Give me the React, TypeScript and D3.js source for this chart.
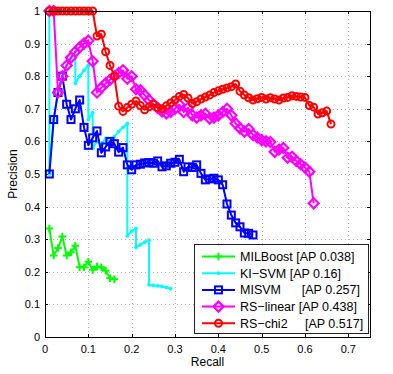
import React from 'react';
import * as d3 from 'd3';

const xTicks = [0, 0.1, 0.2, 0.3, 0.4, 0.5, 0.6, 0.7];
const xTickLabels = ['0', '0.1', '0.2', '0.3', '0.4', '0.5', '0.6', '0.7'];
const yTicks = [0, 0.1, 0.2, 0.3, 0.4, 0.5, 0.6, 0.7, 0.8, 0.9, 1];
const yTickLabels = ['0', '0.1', '0.2', '0.3', '0.4', '0.5', '0.6', '0.7', '0.8', '0.9', '1'];

const milboostRecall = [0.01, 0.02, 0.03, 0.04, 0.05, 0.06, 0.07, 0.08, 0.09, 0.1, 0.11, 0.12, 0.13, 0.14, 0.15, 0.16];
const milboostPrecision = [0.333, 0.25, 0.273, 0.308, 0.25, 0.26, 0.28, 0.214, 0.214, 0.231, 0.206, 0.216, 0.214, 0.203, 0.18, 0.177];

const kisvmRecall = [0.01, 0.01, 0.02, 0.03, 0.04, 0.05, 0.06, 0.07, 0.07, 0.08, 0.09, 0.1, 0.1, 0.11, 0.11, 0.12, 0.13, 0.14, 0.15, 0.16, 0.17, 0.18, 0.19, 0.19, 0.2, 0.21, 0.21, 0.22, 0.23, 0.24, 0.24, 0.25, 0.26, 0.27, 0.28, 0.29];
const kisvmPrecision = [1, 0.5, 0.667, 0.75, 0.8, 0.833, 0.857, 0.875, 0.778, 0.8, 0.818, 0.833, 0.667, 0.688, 0.579, 0.6, 0.591, 0.609, 0.6, 0.615, 0.63, 0.643, 0.655, 0.31, 0.325, 0.333, 0.275, 0.283, 0.291, 0.297, 0.16, 0.158, 0.157, 0.155, 0.152, 0.148];

const misvmRecall = [0.01, 0.02, 0.03, 0.04, 0.05, 0.06, 0.07, 0.08, 0.09, 0.1, 0.11, 0.12, 0.13, 0.14, 0.15, 0.16, 0.17, 0.18, 0.19, 0.2, 0.21, 0.22, 0.23, 0.24, 0.25, 0.26, 0.27, 0.28, 0.29, 0.3, 0.31, 0.32, 0.33, 0.34, 0.35, 0.36, 0.37, 0.38, 0.39, 0.4, 0.41, 0.42, 0.43, 0.44, 0.45, 0.46, 0.47, 0.48];
const misvmPrecision = [0.5, 0.667, 0.75, 0.8, 0.714, 0.667, 0.7, 0.727, 0.643, 0.588, 0.611, 0.632, 0.565, 0.583, 0.6, 0.593, 0.567, 0.581, 0.528, 0.513, 0.528, 0.53, 0.534, 0.535, 0.533, 0.54, 0.522, 0.525, 0.533, 0.536, 0.545, 0.507, 0.522, 0.52, 0.528, 0.502, 0.482, 0.485, 0.487, 0.482, 0.467, 0.408, 0.374, 0.35, 0.338, 0.319, 0.318, 0.313];

const rsLinearRecall = [0.01, 0.02, 0.03, 0.04, 0.05, 0.06, 0.07, 0.08, 0.09, 0.1, 0.11, 0.12, 0.13, 0.14, 0.15, 0.16, 0.17, 0.18, 0.19, 0.2, 0.21, 0.22, 0.23, 0.24, 0.25, 0.26, 0.27, 0.28, 0.29, 0.3, 0.31, 0.32, 0.33, 0.34, 0.35, 0.36, 0.37, 0.38, 0.39, 0.4, 0.41, 0.42, 0.43, 0.44, 0.45, 0.46, 0.47, 0.48, 0.49, 0.5, 0.51, 0.52, 0.53, 0.54, 0.55, 0.56, 0.57, 0.58, 0.59, 0.6, 0.61, 0.62];
const rsLinearPrecision = [1, 1, 0.75, 0.8, 0.833, 0.857, 0.875, 0.889, 0.9, 0.909, 0.846, 0.75, 0.765, 0.778, 0.789, 0.8, 0.81, 0.818, 0.792, 0.8, 0.76, 0.757, 0.742, 0.727, 0.714, 0.703, 0.692, 0.686, 0.69, 0.7, 0.713, 0.69, 0.703, 0.68, 0.673, 0.68, 0.685, 0.67, 0.673, 0.68, 0.69, 0.7, 0.68, 0.655, 0.64, 0.63, 0.638, 0.62, 0.612, 0.604, 0.6, 0.598, 0.568, 0.575, 0.58, 0.55, 0.553, 0.54, 0.53, 0.52, 0.507, 0.41];

const rsChi2Recall = [0.01, 0.02, 0.03, 0.04, 0.05, 0.06, 0.07, 0.08, 0.09, 0.1, 0.11, 0.12, 0.13, 0.14, 0.15, 0.16, 0.17, 0.18, 0.19, 0.2, 0.21, 0.22, 0.23, 0.24, 0.25, 0.26, 0.27, 0.28, 0.29, 0.3, 0.31, 0.32, 0.33, 0.34, 0.35, 0.36, 0.37, 0.38, 0.39, 0.4, 0.41, 0.42, 0.43, 0.44, 0.45, 0.46, 0.47, 0.48, 0.49, 0.5, 0.51, 0.52, 0.53, 0.54, 0.55, 0.56, 0.57, 0.58, 0.59, 0.6, 0.61, 0.62, 0.63, 0.64, 0.65, 0.66];
const rsChi2Precision = [1, 1, 1, 1, 1, 1, 1, 1, 1, 1, 1, 0.923, 0.929, 0.875, 0.833, 0.8, 0.708, 0.692, 0.704, 0.714, 0.724, 0.71, 0.697, 0.706, 0.714, 0.703, 0.7, 0.709, 0.718, 0.727, 0.738, 0.744, 0.733, 0.716, 0.722, 0.73, 0.736, 0.742, 0.75, 0.755, 0.76, 0.764, 0.768, 0.776, 0.754, 0.742, 0.734, 0.727, 0.731, 0.735, 0.73, 0.734, 0.73, 0.727, 0.733, 0.735, 0.74, 0.738, 0.736, 0.735, 0.71, 0.705, 0.684, 0.688, 0.693, 0.653];

const seriesLabels = ['MILBoost [AP 0.038]', 'KI\u2212SVM [AP 0.16]', 'MISVM      [AP 0.257]', 'RS\u2212linear [AP 0.438]', 'RS\u2212chi2     [AP 0.517]'];
const seriesColors = ['#00ff00', '#00ffff', '#0000ff', '#ff00ff', '#ff0000'];
const seriesMarkers = ['plus', 'dot', 'square', 'diamond', 'circle'];

const FONT = '"Liberation Sans", Arial, Helvetica, sans-serif';

function Marker({ type, cx, cy, color }: { type: string; cx: number; cy: number; color: string }) {
  if (type === 'plus') {
    const s = 3.8;
    return <path d={`M${cx - s},${cy}H${cx + s}M${cx},${cy - s}V${cy + s}`} stroke={color} strokeWidth={2} fill="none" />;
  }
  if (type === 'dot') return <circle cx={cx} cy={cy} r={1.9} fill={color} />;
  if (type === 'square') {
    const s = 3.5;
    return <rect x={cx - s} y={cy - s} width={2 * s} height={2 * s} stroke={color} strokeWidth={2} fill="none" />;
  }
  if (type === 'diamond') {
    const s = 5;
    return <path d={`M${cx},${cy - s}L${cx + s},${cy}L${cx},${cy + s}L${cx - s},${cy}Z`} stroke={color} strokeWidth={2.2} fill="none" />;
  }
  return <circle cx={cx} cy={cy} r={3.5} stroke={color} strokeWidth={2} fill="none" />;
}

export default function App() {
  const W = 393, H = 374;
  const left = 45, right = 370, top = 11, bottom = 337;
  const x = d3.scaleLinear().domain([0, 0.75]).range([left, right]);
  const y = d3.scaleLinear().domain([0, 1]).range([bottom, top]);

  const series = [
    { r: milboostRecall, p: milboostPrecision },
    { r: kisvmRecall, p: kisvmPrecision },
    { r: misvmRecall, p: misvmPrecision },
    { r: rsLinearRecall, p: rsLinearPrecision },
    { r: rsChi2Recall, p: rsChi2Precision },
  ];

  const line = d3.line<[number, number]>().x(d => x(d[0])).y(d => y(d[1]));

  const legX = 194, legY = 244, legW = 174, legH = 89;

  return (
    <svg width={W} height={H} style={{ position: 'absolute', left: 0, top: 0, background: '#fff' }} fontFamily={FONT}>
      <rect x={0} y={0} width={W} height={H} fill="#fff" />
      {xTicks.slice(1).map((t, i) => (
        <line key={'gx' + i} x1={Math.round(x(t)) + 0.5} x2={Math.round(x(t)) + 0.5} y1={top} y2={bottom} stroke="#b0b0b0" strokeWidth={1} strokeDasharray="1,3" />
      ))}
      {yTicks.slice(1, -1).map((t, i) => (
        <line key={'gy' + i} x1={left} x2={right} y1={Math.round(y(t)) + 0.5} y2={Math.round(y(t)) + 0.5} stroke="#b0b0b0" strokeWidth={1} strokeDasharray="1,3" />
      ))}
      {xTicks.map((t, i) => (
        <g key={'tx' + i}>
          <line x1={Math.round(x(t)) + 0.5} x2={Math.round(x(t)) + 0.5} y1={bottom} y2={bottom - 3} stroke="#000" />
          <line x1={Math.round(x(t)) + 0.5} x2={Math.round(x(t)) + 0.5} y1={top} y2={top + 3} stroke="#000" />
        </g>
      ))}
      {yTicks.map((t, i) => (
        <g key={'ty' + i}>
          <line x1={left} x2={left + 3} y1={Math.round(y(t)) + 0.5} y2={Math.round(y(t)) + 0.5} stroke="#000" />
          <line x1={right} x2={right - 3} y1={Math.round(y(t)) + 0.5} y2={Math.round(y(t)) + 0.5} stroke="#000" />
        </g>
      ))}
      {series.map((s, si) => {
        const pts: [number, number][] = s.r.map((r, i) => [r, s.p[i]]);
        return (
          <g key={'s' + si}>
            <path d={line(pts) || ''} stroke={seriesColors[si]} strokeWidth={2} fill="none" strokeLinejoin="round" />
            {pts.map((d, i) => (
              <Marker key={i} type={seriesMarkers[si]} cx={x(d[0])} cy={y(d[1])} color={seriesColors[si]} />
            ))}
          </g>
        );
      })}
      <rect x={left + 0.5} y={top + 0.5} width={right - left} height={bottom - top} fill="none" stroke="#000" strokeWidth={1} />
      {xTicks.map((t, i) => (
        <text key={'lx' + i} x={x(t)} y={352.5} fontSize={11} textAnchor="middle" fill="#000">{xTickLabels[i]}</text>
      ))}
      {yTicks.map((t, i) => (
        <text key={'ly' + i} x={40} y={y(t) + 4} fontSize={11} textAnchor="end" fill="#000">{yTickLabels[i]}</text>
      ))}
      <text x={(left + right) / 2} y={366} fontSize={12} textAnchor="middle" fill="#000">Recall</text>
      <text transform={`translate(16.5,${(top + bottom) / 2}) rotate(-90)`} fontSize={12} textAnchor="middle" fill="#000">Precision</text>
      <rect x={legX + 0.5} y={legY + 0.5} width={legW} height={legH} fill="#fff" stroke="#222" strokeWidth={1} />
      {seriesLabels.map((lab, i) => {
        const cy = 256.5 + i * 16.7;
        return (
          <g key={'leg' + i}>
            <line x1={202} x2={235} y1={cy} y2={cy} stroke={seriesColors[i]} strokeWidth={2} />
            <Marker type={seriesMarkers[i]} cx={218.5} cy={cy} color={seriesColors[i]} />
            <text x={240} y={cy + 4.5} fontSize={12.5} fill="#000" style={{ whiteSpace: 'pre' }}>{lab}</text>
          </g>
        );
      })}
    </svg>
  );
}
